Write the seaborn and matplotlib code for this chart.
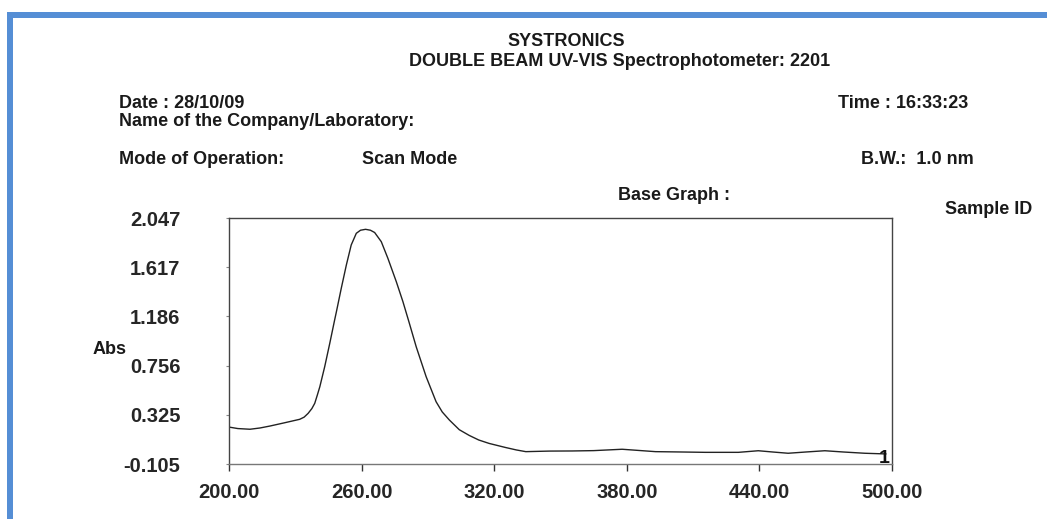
import matplotlib
matplotlib.use("Agg")
import matplotlib.pyplot as plt
from matplotlib.patches import Rectangle
import seaborn as sns
import pandas as pd

# ---- data ----
wavelength = [200, 204, 209.5, 214, 218.5, 225, 232, 234, 235.8, 237.5, 238.8, 240,
              241.1, 243.3, 245.6, 247.8, 248.6, 250.8, 253.1, 255.3, 257.6, 259.5,
              261.8, 264, 265.9, 268.9, 271.9, 275.7, 278.7, 281.4, 284.7, 289.2,
              293.7, 296.5, 299.7, 304.2, 308.7, 313, 317.7, 325, 330, 334.3, 345,
              355.3, 365, 377.9, 393, 405, 415.5, 430.5, 439.5, 446, 453, 461,
              469.6, 478, 487.7, 497.3]
absorbance = [0.218, 0.205, 0.199, 0.210, 0.227, 0.255, 0.286, 0.305, 0.338, 0.38,
              0.426, 0.50, 0.571, 0.746, 0.951, 1.155, 1.227, 1.432, 1.636, 1.811,
              1.913, 1.940, 1.948, 1.940, 1.920, 1.840, 1.694, 1.490, 1.315, 1.140,
              0.921, 0.659, 0.440, 0.35, 0.280, 0.195, 0.145, 0.105, 0.075, 0.04,
              0.018, 0.003, 0.008, 0.009, 0.012, 0.024, 0.003, 0.0, -0.003, -0.003,
              0.011, 0.0, -0.011, 0.0, 0.011, 0.0, -0.011, -0.017]
x_ticks = [200, 260, 320, 380, 440, 500]
x_tick_labels = ["200.00", "260.00", "320.00", "380.00", "440.00", "500.00"]
y_ticks = [-0.105, 0.325, 0.756, 1.186, 1.617, 2.047]
y_tick_labels = ["-0.105", "0.325", "0.756", "1.186", "1.617", "2.047"]

df = pd.DataFrame({"Wavelength": wavelength, "Abs": absorbance})

sns.set_theme(style="white")
plt.rcParams["font.family"] = ["Liberation Sans", "DejaVu Sans"]

W, H = 1047, 519
fig = plt.figure(figsize=(W / 100, H / 100), dpi=100)
fig.patch.set_facecolor("white")

def fx(px):
    return px / W

def fy(py):
    return 1 - py / H

# blue border (left and top bars)
blue = "#558ED5"
fig.add_artist(Rectangle((fx(7), 0), fx(6), fy(12), transform=fig.transFigure,
                         color=blue, lw=0))
fig.add_artist(Rectangle((fx(7), fy(18)), 1 - fx(7), 6 / H, transform=fig.transFigure,
                         color=blue, lw=0))

L, R, T, B = 229, 892, 218, 464
ax = fig.add_axes([fx(L), fy(B), fx(R - L), (B - T) / H])
sns.lineplot(data=df, x="Wavelength", y="Abs", ax=ax, color="#222222", lw=1.0)

ax.set_xlim(200, 500)
ax.set_ylim(-0.105, 2.047)
ax.set_xticks(x_ticks)
ax.set_xticklabels(x_tick_labels, fontsize=14.5, fontweight="bold")
ax.set_yticks(y_ticks)
ax.set_yticklabels(y_tick_labels, fontsize=14.5, fontweight="bold")
ax.set_xlabel("")
ax.set_ylabel("")
ax.tick_params(axis="x", direction="out", length=5, width=1, color="#333333",
               pad=9, bottom=True)
ax.tick_params(axis="y", direction="out", length=2, width=0.8, color="#888888",
               pad=33, left=True)
for sp in ax.spines.values():
    sp.set_color("#444444")
    sp.set_linewidth(1.0)
ax.spines["bottom"].set_color("#777777")

ax.text(499, -0.061, "1", ha="right", va="center", fontsize=14, fontweight="bold",
        color="#111111")

txt = dict(fontsize=13, fontweight="bold", color="#1a1a1a")
fig.text(fx(566), fy(42), "SYSTRONICS", ha="center", va="center", **txt)
fig.text(fx(620), fy(62), "DOUBLE BEAM UV-VIS Spectrophotometer: 2201",
         ha="center", va="center", **txt)
fig.text(fx(119), fy(104), "Date : 28/10/09", ha="left", va="center", **txt)
fig.text(fx(119), fy(122), "Name of the Company/Laboratory:", ha="left", va="center", **txt)
fig.text(fx(838), fy(104), "Time : 16:33:23", ha="left", va="center", **txt)
fig.text(fx(119), fy(160), "Mode of Operation:", ha="left", va="center", **txt)
fig.text(fx(362), fy(160), "Scan Mode", ha="left", va="center", **txt)
fig.text(fx(861), fy(160), "B.W.:  1.0 nm", ha="left", va="center", **txt)
fig.text(fx(618), fy(196), "Base Graph :", ha="left", va="center", **txt)
fig.text(fx(945), fy(209), "Sample ID", ha="left", va="center", **txt)
fig.text(fx(93), fy(350), "Abs", ha="left", va="center", **txt)

fig.savefig("out.png", dpi=100, facecolor="white")
